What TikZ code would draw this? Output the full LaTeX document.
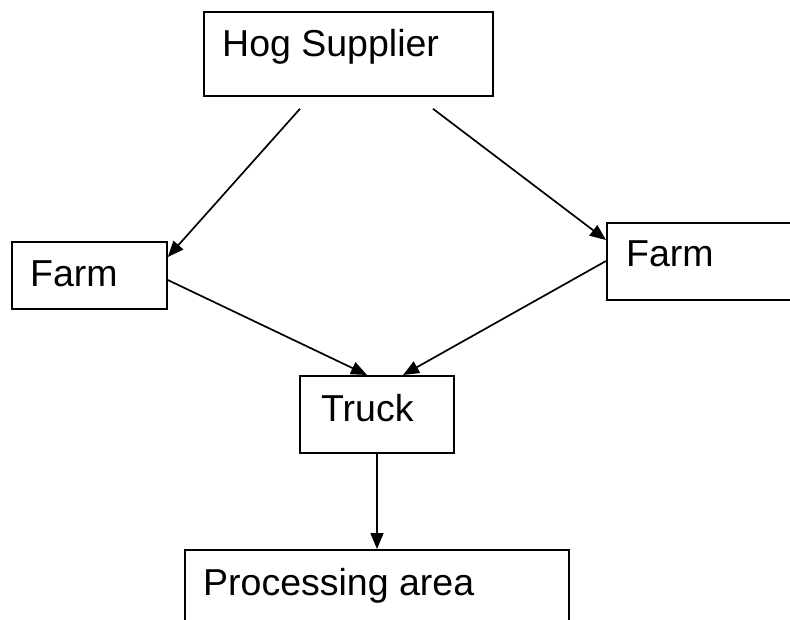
\documentclass[tikz,border=0pt]{standalone}
\usepackage{fontspec}
\setmainfont{Liberation Sans}
\usetikzlibrary{calc,arrows.meta}
\begin{document}
\begin{tikzpicture}[x=1pt,y=-1pt,
  box/.style={draw=black,line width=1.8pt,fill=white,rectangle,anchor=north west,inner sep=0pt},
  lbl/.style={anchor=base west,inner sep=0pt,font=\fontsize{37.5}{40}\selectfont},
  conn/.style={line width=1.7pt,-{Triangle[length=16pt,width=13pt]}}]
\clip (0,0) rectangle (790,620);
\fill[white] (0,0) rectangle (790,620);
% boxes
\node[box,minimum width=289pt,minimum height=84pt] (hog) at (203,11) {};
\node[box,minimum width=155pt,minimum height=67pt] (farmL) at (11,241) {};
\node[box,minimum width=200pt,minimum height=77pt] (farmR) at (606,222) {};
\node[box,minimum width=154pt,minimum height=77pt] (truck) at (299,375) {};
\node[box,minimum width=384pt,minimum height=100pt] (proc) at (184,549) {};
% labels
\node[lbl] (hogt) at (222,57) {Hog Supplier};
\node[lbl] (farmLt) at (30,287) {Farm};
\node[lbl] (farmRt) at (626,267) {Farm};
\node[lbl] (truckt) at (321,421) {Truck};
\node[lbl] (proct) at (203,595) {Processing area};
% connectors
\coordinate (hA) at ($(hog.south west)+(97,12)$);
\coordinate (hB) at ($(hog.south west)+(230,12)$);
\draw[conn] (hA) -- ($(farmL.north east)+(0,16)$);
\draw[conn] (hB) -- ($(farmR.north west)+(0,18)$);
\draw[conn] ($(farmL.north east)+(0,39)$) -- ($(truck.north west)+(68,0)$);
\draw[conn] ($(farmR.north west)+(0,39)$) -- ($(truck.north west)+(104,0)$);
\draw[conn] ($(truck.south west)+(78,0)$) -- ($(proc.north west)+(193,0)$);
\end{tikzpicture}
\end{document}
